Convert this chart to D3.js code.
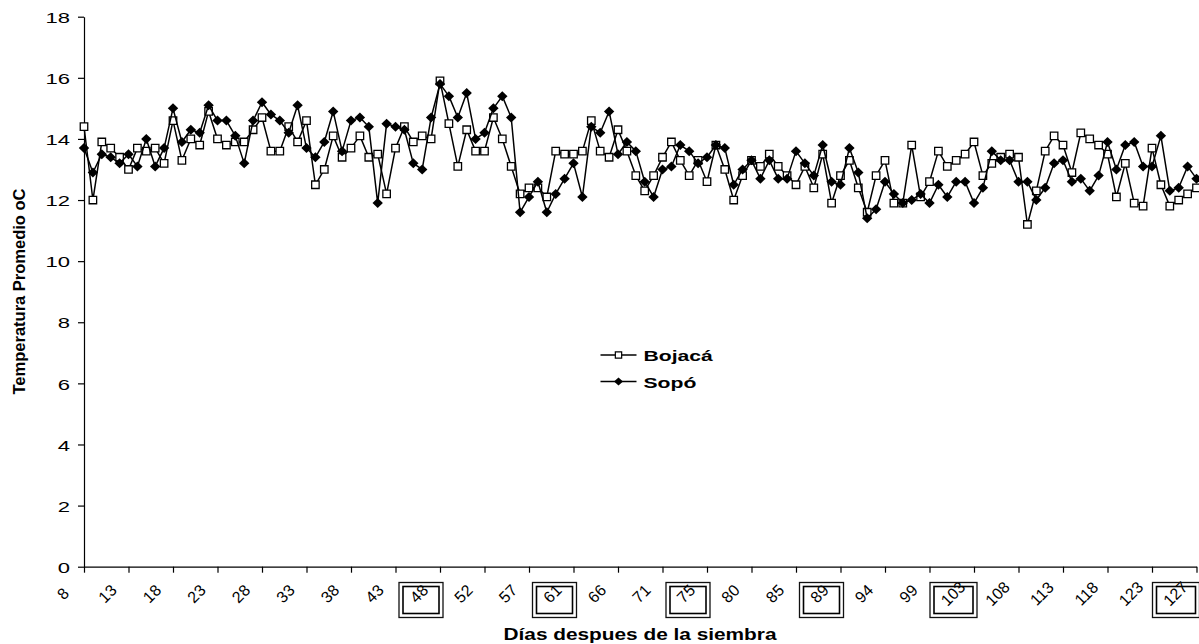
<!DOCTYPE html>
<html>
<head>
<meta charset="utf-8">
<script src="https://cdn.jsdelivr.net/npm/d3@7"></script>
<style>
  html, body { margin: 0; padding: 0; background: #fff; }
  svg { display: block; }
  text { font-family: "Liberation Sans", Arial, sans-serif; fill: #000; }
</style>
</head>
<body>
<svg id="chart" width="1199" height="644"></svg>
<script>
// Mean daily temperature (°C) for the two sites, one value per sampled day
const bojaca = [
  14.4, 12.0, 13.9, 13.7, 13.4, 13.0, 13.7, 13.6, 13.7, 13.2,
  14.6, 13.3, 14.0, 13.8, 14.9, 14.0, 13.8, 13.9, 13.9, 14.3,
  14.7, 13.6, 13.6, 14.4, 13.9, 14.6, 12.5, 13.0, 14.1, 13.4,
  13.7, 14.1, 13.4, 13.5, 12.2, 13.7, 14.4, 13.9, 14.1, 14.0,
  15.9, 14.5, 13.1, 14.3, 13.6, 13.6, 14.7, 14.0, 13.1, 12.2,
  12.4, 12.4, 12.1, 13.6, 13.5, 13.5, 13.6, 14.6, 13.6, 13.4,
  14.3, 13.6, 12.8, 12.3, 12.8, 13.4, 13.9, 13.3, 12.8, 13.3,
  12.6, 13.8, 13.0, 12.0, 12.8, 13.3, 13.1, 13.5, 13.1, 12.8,
  12.5, 13.1, 12.4, 13.5, 11.9, 12.8, 13.3, 12.4, 11.6, 12.8,
  13.3, 11.9, 11.9, 13.8, 12.1, 12.6, 13.6, 13.1, 13.3, 13.5,
  13.9, 12.8, 13.2, 13.4, 13.5, 13.4, 11.2, 12.3, 13.6, 14.1,
  13.8, 12.9, 14.2, 14.0, 13.8, 13.5, 12.1, 13.2, 11.9, 11.8,
  13.7, 12.5, 11.8, 12.0, 12.2, 12.4
];
const sopo = [
  13.7, 12.9, 13.5, 13.4, 13.2, 13.5, 13.1, 14.0, 13.1, 13.7,
  15.0, 13.9, 14.3, 14.2, 15.1, 14.6, 14.6, 14.1, 13.2, 14.6,
  15.2, 14.8, 14.6, 14.2, 15.1, 13.7, 13.4, 13.9, 14.9, 13.6,
  14.6, 14.7, 14.4, 11.9, 14.5, 14.4, 14.3, 13.2, 13.0, 14.7,
  15.8, 15.4, 14.7, 15.5, 14.0, 14.2, 15.0, 15.4, 14.7, 11.6,
  12.1, 12.6, 11.6, 12.2, 12.7, 13.2, 12.1, 14.4, 14.2, 14.9,
  13.5, 13.9, 13.6, 12.6, 12.1, 13.0, 13.1, 13.8, 13.6, 13.2,
  13.4, 13.8, 13.7, 12.5, 13.0, 13.3, 12.7, 13.3, 12.7, 12.7,
  13.6, 13.2, 12.8, 13.8, 12.6, 12.5, 13.7, 12.9, 11.4, 11.7,
  12.6, 12.2, 11.9, 12.0, 12.2, 11.9, 12.5, 12.1, 12.6, 12.6,
  11.9, 12.4, 13.6, 13.3, 13.3, 12.6, 12.6, 12.0, 12.4, 13.2,
  13.3, 12.6, 12.7, 12.3, 12.8, 13.9, 13.0, 13.8, 13.9, 13.1,
  13.1, 14.1, 12.3, 12.4, 13.1, 12.7
];

// Day labels printed under every fifth sample
const tickLabels = ["8","13","18","23","28","33","38","43","48","52","57","61","66",
                    "71","75","80","85","89","94","99","103","108","113","118","123","127"];
// Day labels drawn inside a framed box
const boxedLabels = ["48","61","75","89","103","127"];
const yTickValues = [0, 2, 4, 6, 8, 10, 12, 14, 16, 18];
const seriesNames = ["Bojacá", "Sopó"];

const svg = d3.select("#chart");
const plotLeft = 84, plotRight = 1196.5, plotTop = 16.7, plotBottom = 566.7;
const labelEvery = 5;
const stretch = 1.47;

const x = d3.scalePoint()
  .domain(d3.range(bojaca.length))
  .range([plotLeft, plotRight]);
const y = d3.scaleLinear().domain([0, 18]).range([plotBottom, plotTop]);

// ---- axes ----
const yAxis = svg.append("g")
  .attr("transform", `translate(${plotLeft},0)`)
  .call(d3.axisLeft(y).tickValues(yTickValues).tickSize(6).tickSizeOuter(0).tickFormat(""));
yAxis.select(".domain").attr("stroke", "#000").attr("stroke-width", 1.2);
yAxis.selectAll(".tick line").attr("stroke", "#000").attr("stroke-width", 1.2);

// value labels, widened to the chart's proportions
svg.append("g").selectAll("text").data(yTickValues).join("text")
  .attr("transform", d => `translate(70,${y(d) + 1}) scale(${stretch},1)`)
  .attr("text-anchor", "end")
  .attr("dominant-baseline", "central")
  .style("font-size", "15px")
  .text(d => d);

const xTickIdx = d3.range(0, bojaca.length, labelEvery);
const xAxis = svg.append("g")
  .attr("transform", `translate(0,${plotBottom})`)
  .call(d3.axisBottom(x).tickValues(xTickIdx).tickFormat("").tickSize(6).tickSizeOuter(0));
xAxis.select(".domain").attr("stroke", "#000").attr("stroke-width", 1.2);
xAxis.selectAll(".tick line").attr("stroke", "#000").attr("stroke-width", 1.2);

// slanted day labels, each centred down-left of its tick
svg.append("g").selectAll("text").data(xTickIdx).join("text")
  .attr("transform", i => `translate(${x(i) - 21},${plotBottom + 27}) rotate(-45)`)
  .attr("text-anchor", "middle")
  .attr("dominant-baseline", "central")
  .style("font-size", "16px")
  .text(i => tickLabels[i / labelEvery]);

// framed boxes around selected day labels
xTickIdx.forEach(i => {
  const lab = tickLabels[i / labelEvery];
  if (!boxedLabels.includes(lab)) return;
  const tx = x(i);
  const w = lab.length > 2 ? 47 : 44;
  const bx = tx + 3 - w, by = 582.5, bh = 35;
  const g = svg.append("g");
  g.append("rect").attr("x", bx).attr("y", by).attr("width", w).attr("height", bh)
    .attr("fill", "none").attr("stroke", "#111").attr("stroke-width", 1.3);
  g.append("rect").attr("x", bx + 4).attr("y", by + 4).attr("width", w - 8).attr("height", bh - 8)
    .attr("fill", "none").attr("stroke", "#000").attr("stroke-width", 1.6);
});

// ---- axis titles ----
svg.append("text")
  .attr("transform", "translate(25,291.5) rotate(-90)")
  .attr("text-anchor", "middle")
  .style("font-size", "16.5px").style("font-weight", "bold")
  .text("Temperatura Promedio oC");

svg.append("text")
  .attr("x", 640).attr("y", 640)
  .attr("text-anchor", "middle")
  .attr("textLength", 273).attr("lengthAdjust", "spacingAndGlyphs")
  .style("font-size", "16px").style("font-weight", "bold")
  .text("Días despues de la siembra");

// ---- series ----
const line = d3.line().x((d, i) => x(i)).y(d => y(d));
const square = d3.symbol().type(d3.symbolSquare).size(56);

function drawSeries(values, kind) {
  const g = svg.append("g");
  g.append("path").datum(values)
    .attr("d", line).attr("fill", "none")
    .attr("stroke", "#000").attr("stroke-width", 1.5).attr("stroke-linejoin", "round");
  const m = g.selectAll("path.mk").data(values).join("path").attr("class", "mk")
    .attr("transform", (d, i) => `translate(${x(i)},${y(d)})`);
  if (kind === "square") {
    m.attr("d", square).attr("fill", "#fff").attr("stroke", "#000").attr("stroke-width", 1.3);
  } else {
    m.attr("d", "M0,-5L5.2,0L0,5L-5.2,0Z").attr("fill", "#000");
  }
}
drawSeries(bojaca, "square");
drawSeries(sopo, "diamond");

// ---- legend ----
const legend = svg.append("g");
[["square", 355], ["diamond", 381.5]].forEach(([kind, ly], k) => {
  legend.append("line").attr("x1", 600.5).attr("x2", 636.5).attr("y1", ly).attr("y2", ly)
    .attr("stroke", "#000").attr("stroke-width", 1.5);
  if (kind === "square") {
    legend.append("path").attr("transform", `translate(618.5,${ly})`)
      .attr("d", d3.symbol().type(d3.symbolSquare).size(40))
      .attr("fill", "#fff").attr("stroke", "#000").attr("stroke-width", 1.2);
  } else {
    legend.append("path").attr("transform", `translate(618.5,${ly})`)
      .attr("d", "M0,-4L4.5,0L0,4L-4.5,0Z").attr("fill", "#000");
  }
  legend.append("text")
    .attr("transform", `translate(643.5,${ly + 6}) scale(${stretch},1)`)
    .style("font-size", "14.4px").style("font-weight", "bold")
    .text(seriesNames[k]);
});
</script>
</body>
</html>
